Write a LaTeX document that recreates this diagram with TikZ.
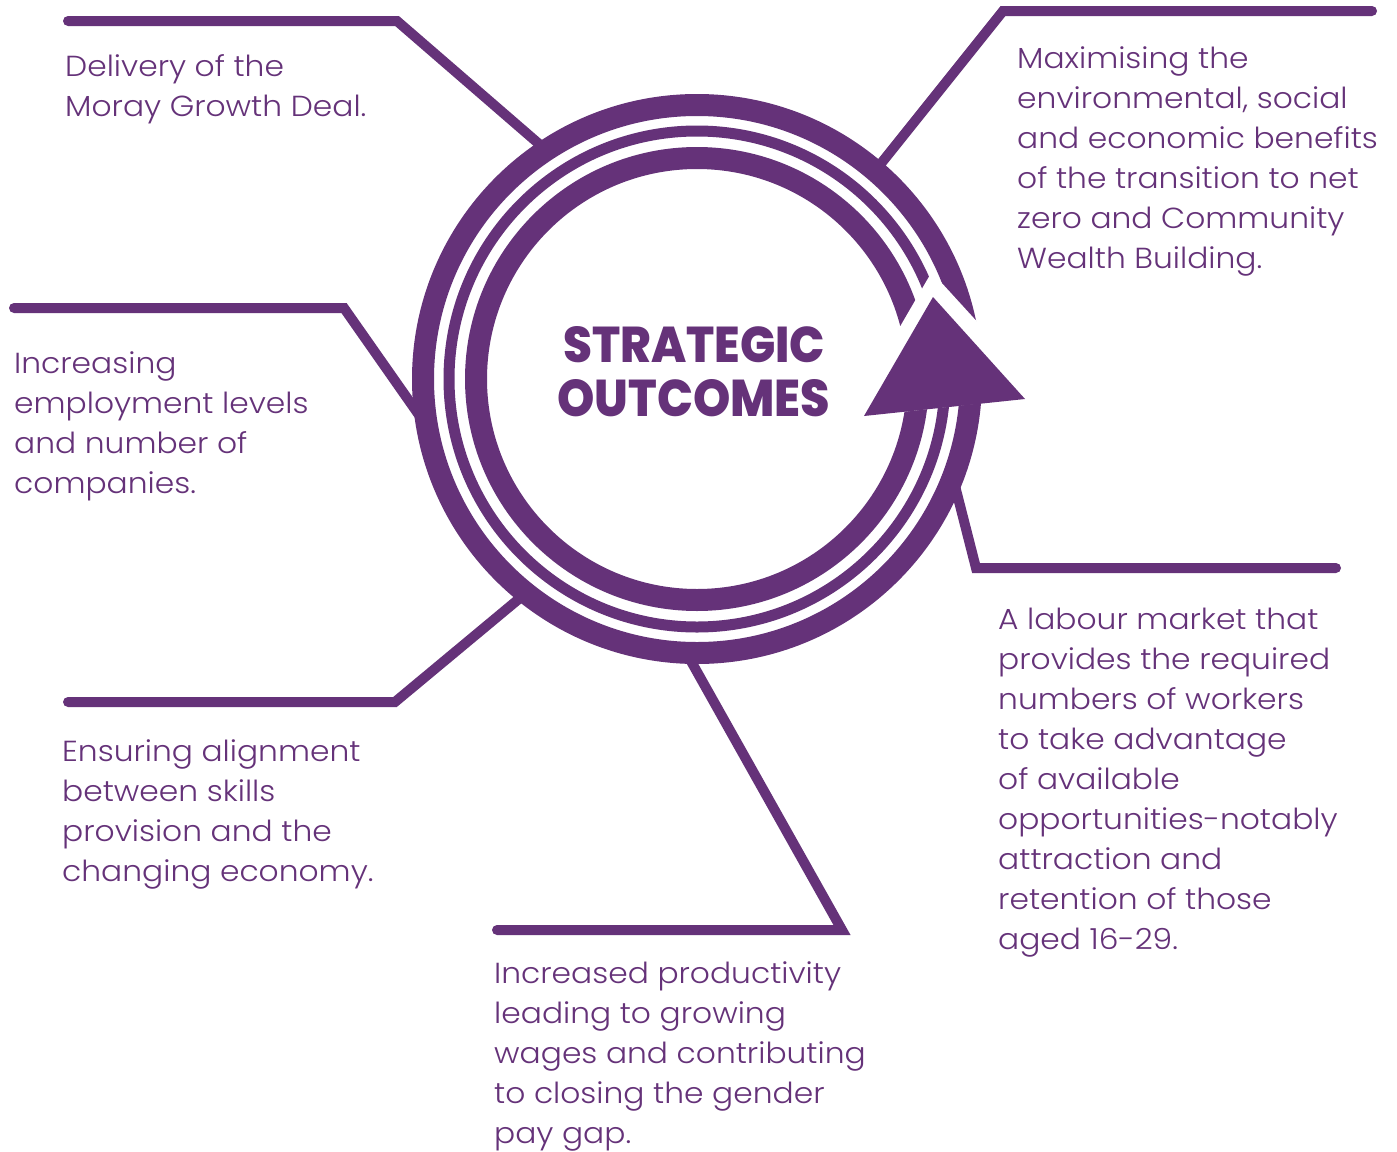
\documentclass[tikz,border=0pt]{standalone}
\usepackage{fontspec}
\setmainfont{Poppins}[UprightFont={* Light},BoldFont={* ExtraBold},FakeStretch=1.08]
\definecolor{mpurple}{RGB}{101,50,121}
\newcommand{\blk}[1]{\parbox[t]{460pt}{\raggedright #1}}
\begin{document}
\begin{tikzpicture}[x=1pt,y=-1pt,
  conn/.style={draw=mpurple,line width=10pt,line cap=round,line join=miter},
  outerband/.style={draw=mpurple,line width=22pt},
  midband/.style={draw=mpurple,line width=11pt},
  txt/.style={anchor=base west,inner sep=0pt,text=mpurple,font=\fontsize{29}{40}\selectfont},
  head/.style={anchor=base west,inner sep=0pt,text=mpurple,font=\bfseries}]
\useasboundingbox (0,0) rectangle (1397,1151);
\fill[white] (0,0) rectangle (1397,1151);

% centre of the rings
\coordinate (c) at (697,379);

% connector coordinates
\coordinate (a0) at (68,21);   \coordinate (a1) at (397,21);  \coordinate (a2) at (546,150);
\coordinate (b0) at (1372,11); \coordinate (b1) at (1003,11); \coordinate (b2) at (875,171);
\coordinate (d0) at (14,308);  \coordinate (d1) at (344,308); \coordinate (d2) at (426,425);
\coordinate (e0) at (68,702);  \coordinate (e1) at (395,702); \coordinate (e2) at (526,593);
\coordinate (f0) at (497,930); \coordinate (f1) at (842,930); \coordinate (f2) at (687,654);
\coordinate (g0) at (1336,568);\coordinate (g1) at (976,568); \coordinate (g2) at (953,478);

\draw[conn] (a0) -- (a1) -- (a2);
\draw[conn] (b0) -- (b1) -- (b2);
\draw[conn] (d0) -- (d1) -- (d2);
\draw[conn] (e0) -- (e1) -- (e2);
\draw[conn] (f0) -- (f1) -- (f2);
\draw[conn] (g0) -- (g1) -- (g2);

% rings
\fill[white] (c) circle[radius=263];
\draw[outerband] (c) circle[radius=274];
\draw[midband] (c) circle[radius=248];
\draw[outerband] (c) circle[radius=221];

% gap round the arrowhead, then the arrowhead
\fill[white] (931.7,272) -- (1045,396) -- (847,418) -- cycle;
\fill[mpurple] (933,297) -- (1025,399) -- (864,416) -- cycle;

% heading
\node[head] (h1) at (563,362.5) {\resizebox{262pt}{36pt}{STRATEGIC}};
\node[head] (h2) at (557,416) {\resizebox{273pt}{37pt}{OUTCOMES}};

% texts
\node[txt] (t1) at (65,76) {\blk{Delivery of the\\Moray Growth Deal.}};
\node[txt] (t2) at (1017,68) {\blk{Maximising the\\environmental, social\\and economic benefits\\of the transition to net\\zero and Community\\Wealth Building.}};
\node[txt] (t3) at (14,373) {\blk{Increasing\\employment levels\\and number of\\companies.}};
\node[txt] (t4) at (62,761) {\blk{Ensuring alignment\\between skills\\provision and the\\changing economy.}};
\node[txt] (t5) at (494,983) {\blk{Increased productivity\\leading to growing\\wages and contributing\\to closing the gender\\pay gap.}};
\node[txt] (t6) at (998,629) {\blk{A labour market that\\provides the required\\numbers of workers\\to take advantage\\of available\\opportunities-notably\\attraction and\\retention of those\\aged 16-29.}};
\end{tikzpicture}
\end{document}
